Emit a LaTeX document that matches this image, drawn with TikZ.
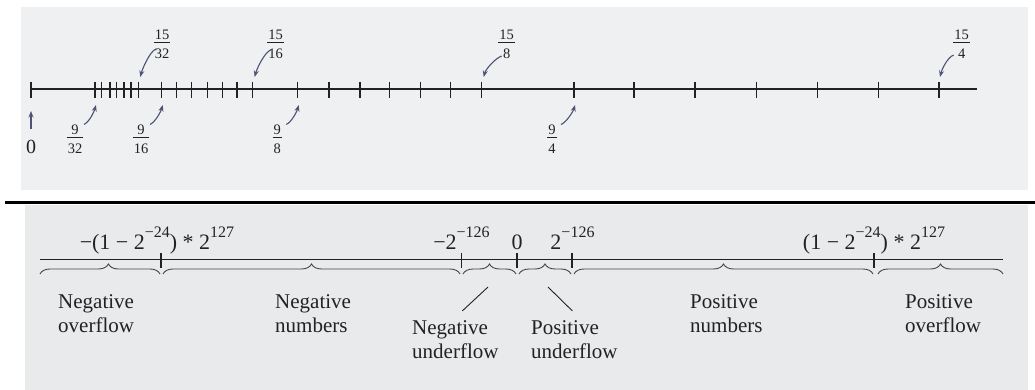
\documentclass[tikz,border=0pt]{standalone}
\usepackage{fontspec}
\setmainfont{Liberation Serif}
\usetikzlibrary{arrows.meta,decorations.pathreplacing,calc}
\definecolor{bgtop}{HTML}{EEF0F1}
\definecolor{bgbot}{HTML}{E8EAEC}
\definecolor{arrowc}{HTML}{4E5276}
\definecolor{ink}{HTML}{222222}
\newcommand\myfrac[2]{\vbox{\halign{\hskip1pt\hfil##\hfil\hskip1pt\cr #1\cr\noalign{\kern3pt\hrule height0.8pt\kern5.5pt}#2\cr}}}
\newcommand\sups[1]{\raisebox{11.5pt}{\fontsize{16}{16}\selectfont #1}}
\begin{document}
\begin{tikzpicture}[x=1pt,y=-1pt,
  tk/.style={ink,line width=1.3pt},
  nline/.style={ink,line width=1.2pt},
  arr/.style={arrowc,line width=1.1pt,-{Stealth[length=6.5pt,width=5pt]}},
  fr/.style={inner sep=0pt,text=ink,font=\fontsize{14.5}{16}\selectfont},
  val/.style={inner sep=0pt,anchor=base,text=ink,font=\fontsize{22}{24}\selectfont},
  lbl/.style={inner sep=0pt,anchor=base west,align=left,text=ink,font=\fontsize{21}{24}\selectfont},
  brc/.style={decorate,ink!85,line width=0.9pt},
  conn/.style={ink,line width=0.9pt}]
\useasboundingbox (0,0) rectangle (1035,390);
\fill[white] (0,0) rectangle (1035,390);
\fill[bgtop] (21,7) rectangle (1028,190);
\fill[bgbot] (25,205) rectangle (1028,390);
\draw[line width=3pt] (5,202) -- (1035,202);
% ---------- top number line
\draw[nline] (31,89) -- (977,89);
\foreach \x in {31,95,101.7,110,116.7,124,131,138.3,161.7,176.7,191.7,207.3,222.3,237,252.7,297.7,329,360,389.3,420.7,450.7,481.7,574,634,695,756.7,817.3,878.3,939}
  \draw[tk] (\x,82) -- (\x,98);
\coordinate (t0) at (31,89);
\coordinate (t932) at (95,89);
\coordinate (t1532) at (138.3,89);
\coordinate (t916) at (161.7,89);
\coordinate (t1516) at (252.7,89);
\coordinate (t98) at (297.7,89);
\coordinate (t158) at (481.7,89);
\coordinate (t94) at (574,89);
\coordinate (t154) at (939,89);
\node[inner sep=0pt,text=ink,font=\fontsize{20}{20}\selectfont] (n0) at (31,147) {0};
\node[fr] (f932) at (75,139) {\myfrac{9}{32}};
\node[fr] (f916) at (141,139) {\myfrac{9}{16}};
\node[fr] (f98) at (277.3,139) {\myfrac{9}{8}};
\node[fr] (f94) at (552,139) {\myfrac{9}{4}};
\node[fr] (f1532) at (162,44) {\myfrac{15}{32}};
\node[fr] (f1516) at (275.7,44) {\myfrac{15}{16}};
\node[fr] (f158) at (506.7,44) {\myfrac{15}{8}};
\node[fr] (f154) at (961.7,44) {\myfrac{15}{4}};
\draw[arr] ([yshift=11pt]n0.north) -- ([yshift=-22pt]t0);
\foreach \f/\t in {f932/t932,f916/t916,f98/t98,f94/t94}
  \draw[arr] ([xshift=9pt]\f.north) .. controls +(5,-2) and +(-2,7) .. ([xshift=1pt,yshift=-16pt]\t);
\draw[arr] ([xshift=-6pt,yshift=-5pt]f1532.center) .. controls +(-6,2) and +(2,-8) .. ([xshift=2pt,yshift=12pt]t1532);
\draw[arr] ([xshift=-5pt,yshift=-6pt]f1516.center) .. controls +(-6,2) and +(2,-8) .. ([xshift=2pt,yshift=12pt]t1516);
\draw[arr] ([xshift=-5pt,yshift=-12pt]f158.center) .. controls +(-6,2) and +(2,-8) .. ([xshift=2pt,yshift=12pt]t158);
\draw[arr] ([xshift=-8pt,yshift=-11pt]f154.center) .. controls +(-6,2) and +(2,-8) .. ([xshift=1pt,yshift=12pt]t154);
% ---------- bottom number line
\draw[nline] (40,259.5) -- (1003,259.5);
\foreach \x in {161,461.7,517,572,874}
  \draw[tk] (\x,253) -- (\x,268);
\node[val] (v1) at (157,249) {−(1 − 2\sups{−24}) * 2\sups{127}};
\node[val] (v2) at (461.5,249) {−2\sups{−126}};
\node[val] (v3) at (517,249) {0};
\node[val] (v4) at (572.5,249) {2\sups{−126}};
\node[val] (v5) at (874,249) {(1 − 2\sups{−24}) * 2\sups{127}};
\draw[brc,decoration={brace,amplitude=10pt,aspect=0.57}] (40,274) -- (160,274);
\draw[brc,decoration={brace,amplitude=10pt}] (163,274) -- (460,274);
\draw[brc,decoration={brace,amplitude=10pt}] (463,274) -- (516,274);
\draw[brc,decoration={brace,amplitude=10pt}] (519,274) -- (571,274);
\draw[brc,decoration={brace,amplitude=10pt}] (574,274) -- (873,274);
\draw[brc,decoration={brace,amplitude=10pt}] (878,274) -- (1003,274);
\coordinate (bt3) at (488,287);
\coordinate (bt4) at (548,287);
\node[lbl] (NO) at (58,332) {Negative\\overflow};
\node[lbl] (NN) at (275,332) {Negative\\numbers};
\node[lbl] (NU) at (412,358) {Negative\\underflow};
\node[lbl] (PU) at (531,358) {Positive\\underflow};
\node[lbl] (PN) at (690,332) {Positive\\numbers};
\node[lbl] (PO) at (905,332) {Positive\\overflow};
\draw[conn] (bt3) -- ([xshift=7pt,yshift=9pt]NU.north);
\draw[conn] (bt4) -- ([xshift=-2pt,yshift=9pt]PU.north);
\end{tikzpicture}
\end{document}
